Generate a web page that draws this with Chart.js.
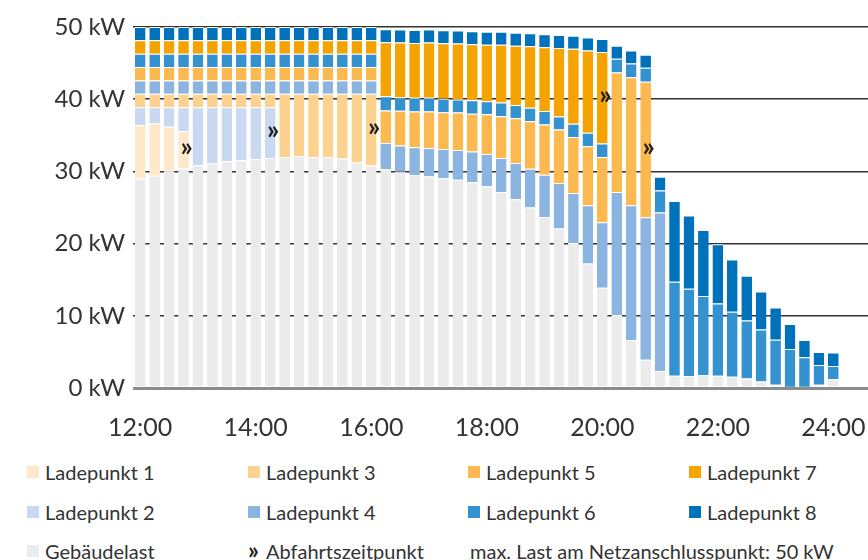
<!DOCTYPE html>
<html lang="de">
<head>
<meta charset="utf-8">
<title>Lastverlauf Ladepunkte</title>
<script src="https://cdn.jsdelivr.net/npm/chart.js@4"></script>
<style>
  html, body { margin: 0; padding: 0; background: #fff; }
  #wrap { position: relative; width: 868px; height: 560px; overflow: hidden; font-family: Lato, "Open Sans", sans-serif; color: #333; }
  #chart { position: absolute; left: 0; top: 0; }
  .lg { position: absolute; font-size: 20px; line-height: 22px; white-space: nowrap; }
  .sw { position: absolute; width: 12px; height: 12px; }
  .mk { position: absolute; font-weight: 700; font-size: 24px; line-height: 22px; color: #222; }
</style>
</head>
<body>
<div id="wrap">
  <canvas id="chart" width="868" height="448"></canvas>
  <div id="legend"></div>
</div>
<script>
const _ = null;

// Zeitachse: 15-Minuten-Raster von 12:00 bis 24:00
const zeitpunkte = ['12:00','12:15','12:30','12:45','13:00','13:15','13:30','13:45',
  '14:00','14:15','14:30','14:45','15:00','15:15','15:30','15:45',
  '16:00','16:15','16:30','16:45','17:00','17:15','17:30','17:45',
  '18:00','18:15','18:30','18:45','19:00','19:15','19:30','19:45',
  '20:00','20:15','20:30','20:45','21:00','21:15','21:30','21:45',
  '22:00','22:15','22:30','22:45','23:00','23:15','23:30','23:45','24:00'];

const achsenZeiten = ['12:00','14:00','16:00','18:00','20:00','22:00','24:00'];
const achsenLeistung = [0, 10, 20, 30, 40, 50];

// Leistung in kW je Zeitpunkt
const gebaeudelast = [29.0, 29.4, 30.1, 30.4, 30.85, 31.1, 31.4, 31.55, 31.7, 31.85,
  32.0, 32.1, 32.0, 31.95, 31.8, 31.25, 30.8, 30.3, 30.0, 29.45,
  29.3, 29.05, 28.85, 28.5, 27.95, 27.1, 26.15, 25.0, 23.7, 22.1,
  20.1, 17.25, 13.9, 10.1, 6.65, 3.9, 2.35, 1.7, 1.65, 1.8,
  1.7, 1.55, 1.3, 0.9, 0.45, 0.15, 0.1, 0.45, 1.2];

const ladepunkt1 = [7.4, 7.25, 6.1, 5.2, _, _, _, _, _, _,
  _, _, _, _, _, _, _, _, _, _,
  _, _, _, _, _, _, _, _, _, _,
  _, _, _, _, _, _, _, _, _, _,
  _, _, _, _, _, _, _, _, _];

const ladepunkt2 = [2.5, 2.25, 2.7, 3.3, 8.05, 7.8, 7.5, 7.35, 7.2, 7.05,
  _, _, _, _, _, _, _, _, _, _,
  _, _, _, _, _, _, _, _, _, _,
  _, _, _, _, _, _, _, _, _, _,
  _, _, _, _, _, _, _, _, _];

const ladepunkt3 = [1.85, 1.85, 1.85, 1.85, 1.85, 1.85, 1.85, 1.85, 1.85, 1.85,
  8.75, 8.65, 8.75, 8.8, 8.95, 9.5, 9.95, _, _, _,
  _, _, _, _, _, _, _, _, _, _,
  _, _, _, _, _, _, _, _, _, _,
  _, _, _, _, _, _, _, _, _];

const ladepunkt4 = [1.85, 1.85, 1.85, 1.85, 1.85, 1.85, 1.85, 1.85, 1.85, 1.85,
  1.85, 1.85, 1.85, 1.85, 1.85, 1.85, 1.85, 3.65, 3.6, 3.9,
  3.95, 4.05, 4.1, 4.25, 4.45, 4.75, 5.0, 5.35, 5.85, 6.3,
  6.9, 8.05, 9.05, 17.05, 18.65, 19.75, 21.95, _, _, _,
  _, _, _, _, _, _, _, _, _];

const ladepunkt5 = [1.85, 1.85, 1.85, 1.85, 1.85, 1.85, 1.85, 1.85, 1.85, 1.85,
  1.85, 1.85, 1.85, 1.85, 1.85, 1.85, 1.85, 4.5, 4.8, 4.95,
  5.05, 5.1, 5.2, 5.25, 5.5, 5.8, 6.2, 6.6, 6.95, 7.4,
  7.75, 8.2, 9.05, 16.55, 17.75, 18.75, _, _, _, _,
  _, _, _, _, _, _, _, _, _];

const ladepunkt6 = [1.85, 1.85, 1.85, 1.85, 1.85, 1.85, 1.85, 1.85, 1.85, 1.85,
  1.85, 1.85, 1.85, 1.85, 1.85, 1.85, 1.85, 1.95, 1.85, 1.9,
  1.9, 1.85, 1.8, 1.85, 1.8, 1.9, 1.85, 1.85, 1.85, 1.8,
  1.85, 1.85, 1.85, 1.9, 1.9, 1.95, 3.05, 13.0, 12.1, 10.95,
  10.0, 9.0, 8.05, 7.2, 6.25, 5.25, 4.15, 2.75, 1.85];

const ladepunkt7 = [1.85, 1.85, 1.85, 1.85, 1.85, 1.85, 1.85, 1.85, 1.85, 1.85,
  1.85, 1.85, 1.85, 1.85, 1.85, 1.85, 1.85, 7.5, 7.6, 7.6,
  7.65, 7.7, 7.75, 7.75, 7.85, 8.0, 8.2, 8.55, 8.85, 9.5,
  10.4, 11.4, 12.7, _, _, _, _, _, _, _,
  _, _, _, _, _, _, _, _, _];

const ladepunkt8 = [1.85, 1.85, 1.85, 1.85, 1.85, 1.85, 1.85, 1.85, 1.85, 1.85,
  1.85, 1.85, 1.85, 1.85, 1.85, 1.85, 1.85, 1.8, 1.8, 1.8,
  1.8, 1.8, 1.8, 1.8, 1.8, 1.8, 1.8, 1.8, 1.8, 1.8,
  1.8, 1.8, 1.8, 1.8, 1.8, 1.8, 1.9, 11.2, 10.15, 9.15,
  8.2, 7.25, 6.2, 5.25, 4.45, 3.45, 2.4, 1.8, 1.85];

// Abfahrtszeitpunkte je Ladepunkt
const abfahrten = [
  { serie: 'Ladepunkt 1', zeit: '12:45' },
  { serie: 'Ladepunkt 2', zeit: '14:15' },
  { serie: 'Ladepunkt 3', zeit: '16:00' },
  { serie: 'Ladepunkt 7', zeit: '20:00' },
  { serie: 'Ladepunkt 5', zeit: '20:45' }
];

const serienNamen = ['Gebäudelast', 'Ladepunkt 1', 'Ladepunkt 2', 'Ladepunkt 3', 'Ladepunkt 4',
  'Ladepunkt 5', 'Ladepunkt 6', 'Ladepunkt 7', 'Ladepunkt 8'];
const serienWerte = [gebaeudelast, ladepunkt1, ladepunkt2, ladepunkt3, ladepunkt4,
  ladepunkt5, ladepunkt6, ladepunkt7, ladepunkt8];
const serienFarben = ['#ebebeb', '#fde8c9', '#c9d9f1', '#fdd28e', '#8bb4e1',
  '#fbb94f', '#3492d1', '#f5a300', '#0072bc'];

const maxLastText = 'max. Last am Netzanschlusspunkt: 50\u202FkW';

const stunden = t => { const [h, m] = t.split(':').map(Number); return h + m / 60; };
const fontFam = 'Lato, "Open Sans", sans-serif';

const datasets = serienNamen.map((name, i) => ({
  label: name,
  data: zeitpunkte.map((t, j) => ({ x: stunden(t), y: serienWerte[i][j] })),
  backgroundColor: serienFarben[i],
  borderColor: '#ffffff',
  borderWidth: { top: 1, right: 0, bottom: 0, left: 0 },
  borderSkipped: false,
  categoryPercentage: 1,
  barPercentage: 0.74
}));

// Abfahrtsmarker mittig auf dem jeweils letzten Ladesegment
const abfahrtPlugin = {
  id: 'abfahrt',
  afterDraw(chart) {
    const c = chart.ctx;
    c.save();
    c.fillStyle = '#222';
    c.font = 'bold 27px ' + fontFam;
    c.textAlign = 'center';
    c.textBaseline = 'middle';
    abfahrten.forEach(a => {
      const di = serienNamen.indexOf(a.serie);
      const idx = zeitpunkte.indexOf(a.zeit);
      const bar = chart.getDatasetMeta(di).data[idx];
      if (!bar) return;
      const p = bar.getProps(['x', 'y', 'base'], true);
      c.fillText('\u00BB', p.x + 3, (p.y + p.base) / 2 - 2);
    });
    c.restore();
  }
};

new Chart(document.getElementById('chart'), {
  type: 'bar',
  data: { datasets },
  plugins: [abfahrtPlugin],
  options: {
    responsive: false,
    animation: false,
    layout: { padding: { top: 27, right: 0, bottom: 0, left: 0 } },
    plugins: { legend: { display: false }, tooltip: { enabled: false } },
    scales: {
      x: {
        type: 'linear',
        stacked: true,
        min: 11.875,
        max: 24.6,
        offset: false,
        grid: { display: false, drawTicks: false },
        border: { display: false },
        afterBuildTicks: s => { s.ticks = achsenZeiten.map(t => ({ value: stunden(t) })); },
        afterFit: s => { s.height = 60; s.paddingLeft = 0; s.paddingRight = 0; },
        ticks: {
          padding: 25,
          autoSkip: false,
          maxRotation: 0,
          color: '#333',
          font: { family: fontFam, size: 25 },
          callback: v => achsenZeiten.find(t => stunden(t) === v)
        }
      },
      y: {
        stacked: true,
        min: 0,
        max: 50,
        z: 1,
        afterFit: s => { s.width = 133; },
        afterBuildTicks: s => { s.ticks = achsenLeistung.map(v => ({ value: v })); },
        border: { display: false },
        grid: {
          drawTicks: false,
          color: c => c.tick.value === 0 ? '#8c8c8c' : '#333333',
          lineWidth: c => c.tick.value === 0 ? 3 : 1.6
        },
        ticks: {
          padding: 8,
          color: '#333',
          font: { family: fontFam, size: 24 },
          callback: v => v + ' kW'
        }
      }
    }
  }
});

// Legende
const legend = document.getElementById('legend');
const spalten = [27, 248, 468, 689];
const zeilen = [461, 501, 540];
const eintraege = [
  { name: 'Ladepunkt 1', s: 0, z: 0 }, { name: 'Ladepunkt 3', s: 1, z: 0 },
  { name: 'Ladepunkt 5', s: 2, z: 0 }, { name: 'Ladepunkt 7', s: 3, z: 0 },
  { name: 'Ladepunkt 2', s: 0, z: 1 }, { name: 'Ladepunkt 4', s: 1, z: 1 },
  { name: 'Ladepunkt 6', s: 2, z: 1 }, { name: 'Ladepunkt 8', s: 3, z: 1 },
  { name: 'Gebäudelast', s: 0, z: 2 }
];
eintraege.forEach(e => {
  const x = spalten[e.s], y = zeilen[e.z];
  const sw = document.createElement('div');
  sw.className = 'sw';
  sw.style.left = x + 'px';
  sw.style.top = (y + 5) + 'px';
  sw.style.background = serienFarben[serienNamen.indexOf(e.name)];
  legend.appendChild(sw);
  const tx = document.createElement('div');
  tx.className = 'lg';
  tx.style.left = (x + 18) + 'px';
  tx.style.top = y + 'px';
  tx.textContent = e.name;
  legend.appendChild(tx);
});
const mk = document.createElement('div');
mk.className = 'mk';
mk.style.left = spalten[1] + 'px';
mk.style.top = (zeilen[2] - 1) + 'px';
mk.textContent = '\u00BB';
legend.appendChild(mk);
const ab = document.createElement('div');
ab.className = 'lg';
ab.style.left = (spalten[1] + 18) + 'px';
ab.style.top = zeilen[2] + 'px';
ab.textContent = 'Abfahrtszeitpunkt';
legend.appendChild(ab);
const ml = document.createElement('div');
ml.className = 'lg';
ml.style.left = (spalten[2] + 2) + 'px';
ml.style.top = zeilen[2] + 'px';
ml.textContent = maxLastText;
legend.appendChild(ml);
</script>
</body>
</html>
